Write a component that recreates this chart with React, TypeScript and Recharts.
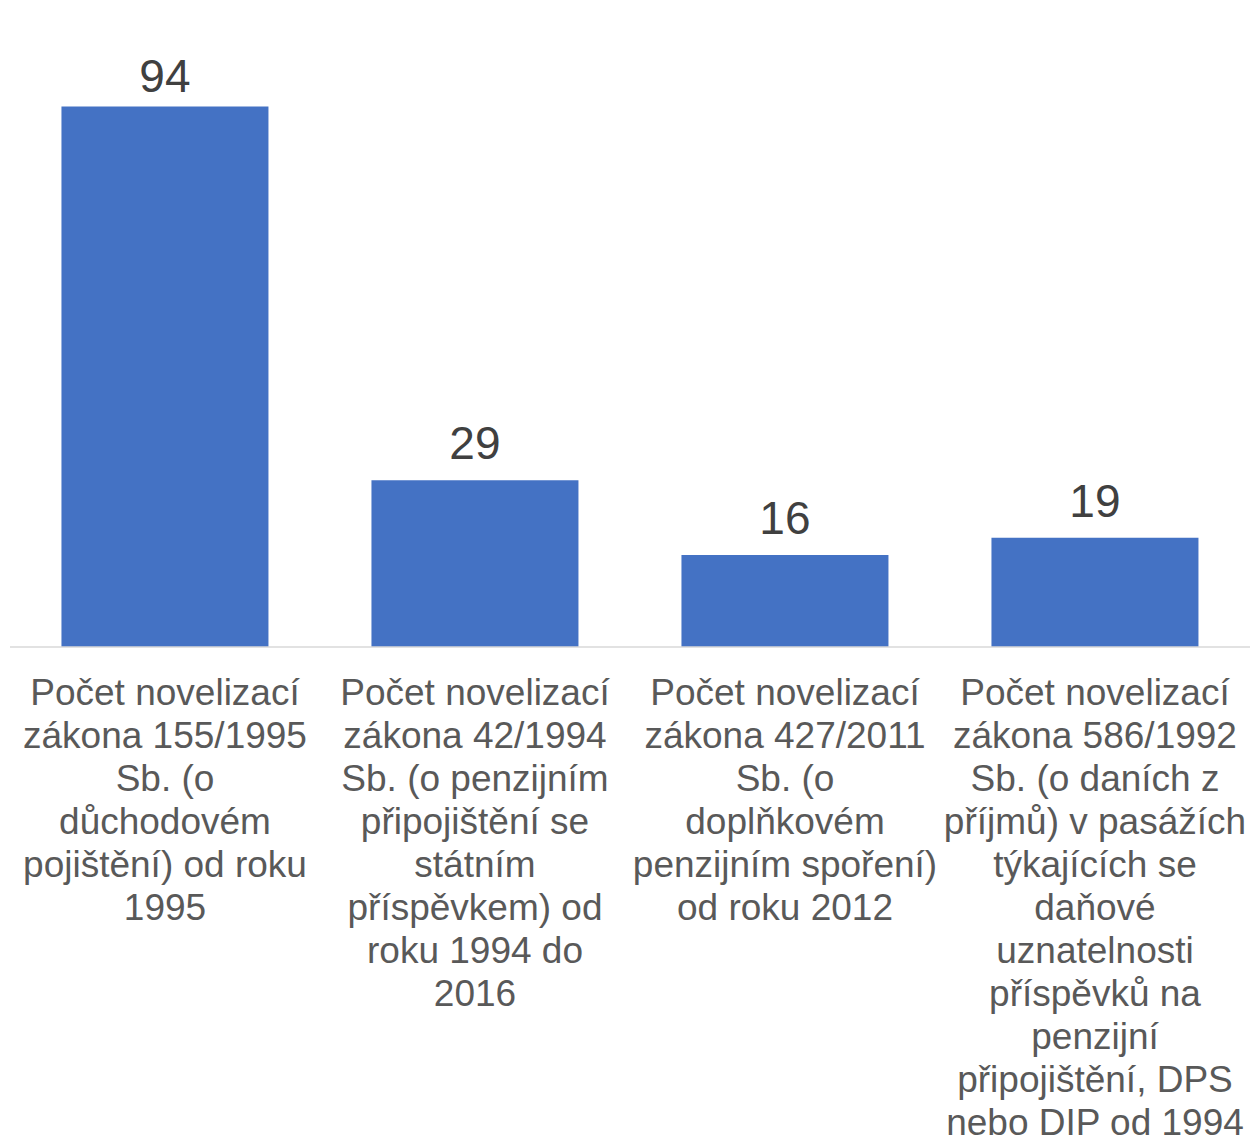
import React from 'react';
import { BarChart, Bar, XAxis, YAxis, LabelList } from 'recharts';

// values
const values = [94, 29, 16, 19];

// category labels, broken into lines as in the original
const tickLines = [
  ['Počet novelizací', 'zákona 155/1995', 'Sb. (o', 'důchodovém', 'pojištění) od roku', '1995'],
  ['Počet novelizací', 'zákona 42/1994', 'Sb. (o penzijním', 'připojištění se', 'státním', 'příspěvkem) od', 'roku 1994 do', '2016'],
  ['Počet novelizací', 'zákona 427/2011', 'Sb. (o', 'doplňkovém', 'penzijním spoření)', 'od roku 2012'],
  ['Počet novelizací', 'zákona 586/1992', 'Sb. (o daních z', 'příjmů) v pasážích', 'týkajících se', 'daňové', 'uznatelnosti', 'příspěvků na', 'penzijní', 'připojištění, DPS', 'nebo DIP od 1994'],
];

const categories = tickLines.map((l) => l.join(' '));

const data = categories.map((name, i) => ({ name, value: values[i], idx: i }));

const FONT = '"Liberation Sans", Arial, sans-serif';

function CategoryTick({ x, y, index }: any) {
  const lines = tickLines[index] || [];
  return (
    <text x={x} y={y} textAnchor="middle" fill="#595959" fontSize={37} fontFamily={FONT}>
      {lines.map((line, i) => (
        <tspan key={i} x={x} y={y + 58 + i * 43}>{line}</tspan>
      ))}
    </text>
  );
}

// labels sit above the bar, but are kept inside the top of the plot (like Excel does)
function ValueLabel({ x, y, width, value }: any) {
  const baseline = Math.max(y - 21, 92);
  return (
    <text x={x + width / 2} y={baseline} textAnchor="middle" fill="#404040" fontSize={46} fontFamily={FONT}>
      {value}
    </text>
  );
}

export default function App() {
  return (
    <div style={{ position: 'absolute', left: 0, top: 0, background: '#fff' }}>
      <BarChart
        width={1253}
        height={1138}
        data={data}
        margin={{ top: 72, right: 3, left: 10, bottom: 0 }}
        barCategoryGap="16.6%"
      >
        <XAxis
          dataKey="name"
          height={491}
          interval={0}
          tickLine={false}
          tickSize={0}
          tickMargin={0}
          axisLine={{ stroke: '#d9d9d9', strokeWidth: 1.5 }}
          tick={<CategoryTick />}
        />
        <YAxis hide domain={[0, 100]} />
        <Bar dataKey="value" fill="#4472C4" isAnimationActive={false}>
          <LabelList dataKey="value" content={<ValueLabel />} />
        </Bar>
      </BarChart>
    </div>
  );
}
